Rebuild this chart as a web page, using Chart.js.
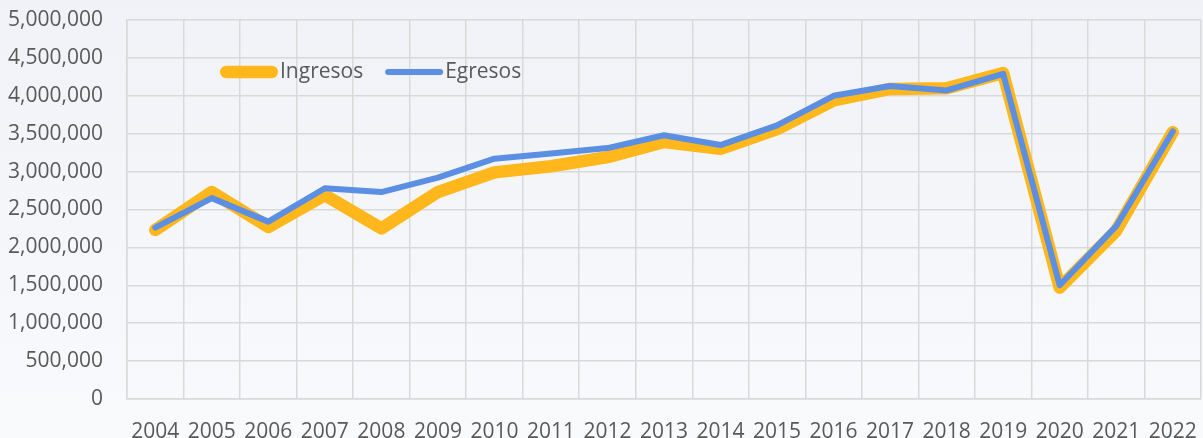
<!DOCTYPE html>
<html>
<head>
<meta charset="utf-8">
<script src="https://cdn.jsdelivr.net/npm/chart.js@4"></script>
<style>
  html, body { margin: 0; padding: 0; background: #f5f6fa; }
  #wrap { width: 1203px; height: 438px; }
</style>
</head>
<body>
<div id="wrap"><canvas id="c" width="1203" height="438"></canvas></div>
<script>
const years = ['2004','2005','2006','2007','2008','2009','2010','2011','2012','2013','2014','2015','2016','2017','2018','2019','2020','2021','2022'];
const ingresos = [2230000, 2730000, 2270000, 2690000, 2250000, 2730000, 2990000, 3070000, 3190000, 3390000, 3300000, 3560000, 3940000, 4090000, 4100000, 4300000, 1470000, 2220000, 3520000];
const egresos  = [2260000, 2650000, 2340000, 2780000, 2730000, 2920000, 3170000, 3240000, 3310000, 3480000, 3350000, 3610000, 4000000, 4130000, 4070000, 4290000, 1500000, 2280000, 3530000];
const seriesNames = ['Ingresos', 'Egresos'];

const FONT = '"Open Sans", "DejaVu Sans", sans-serif';
const TEXT = '#595959';
const GRID = '#d9d9d9';

const bgPlugin = {
  id: 'bg',
  beforeDraw(chart) {
    const ctx = chart.ctx;
    const g = ctx.createLinearGradient(0, 0, 0, chart.height);
    g.addColorStop(0, '#f1f2f7');
    g.addColorStop(1, '#f9fafc');
    ctx.save();
    ctx.fillStyle = g;
    ctx.fillRect(0, 0, chart.width, chart.height);
    ctx.restore();
  }
};

const legendPlugin = {
  id: 'innerLegend',
  afterDatasetsDraw(chart) {
    const ctx = chart.ctx;
    ctx.save();
    ctx.font = '21px ' + FONT;
    ctx.textBaseline = 'middle';
    ctx.textAlign = 'left';
    let x = 220;
    const y = 72;
    const sample = 58;
    chart.data.datasets.forEach((ds) => {
      const w = ds.borderWidth;
      ctx.strokeStyle = ds.borderColor;
      ctx.lineWidth = w;
      ctx.lineCap = 'round';
      ctx.beginPath();
      ctx.moveTo(x + w / 2, y);
      ctx.lineTo(x + sample - w / 2, y);
      ctx.stroke();
      x += sample + 2;
      ctx.fillStyle = TEXT;
      ctx.fillText(ds.label, x, y);
      x += ctx.measureText(ds.label).width + 22;
    });
    ctx.restore();
  }
};

new Chart(document.getElementById('c'), {
  type: 'line',
  data: {
    labels: years,
    datasets: [
      {
        label: seriesNames[0],
        data: ingresos,
        borderColor: '#ffb71c',
        backgroundColor: '#ffb71c',
        borderWidth: 12.5,
        order: 1
      },
      {
        label: seriesNames[1],
        data: egresos,
        borderColor: '#5b8fe3',
        backgroundColor: '#5b8fe3',
        borderWidth: 6,
        order: 0
      }
    ]
  },
  options: {
    responsive: false,
    animation: false,
    devicePixelRatio: 1,
    layout: { autoPadding: false, padding: { top: 20, right: 2, left: 0, bottom: 0 } },
    elements: {
      line: { tension: 0, borderCapStyle: 'round', borderJoinStyle: 'round', fill: false },
      point: { radius: 0, hoverRadius: 0 }
    },
    plugins: {
      legend: { display: false },
      tooltip: { enabled: false },
      title: { display: false }
    },
    scales: {
      x: {
        offset: true,
        grid: { offset: true, color: GRID, lineWidth: 1.5, drawTicks: false },
        border: { color: GRID, width: 1.5 },
        ticks: { color: TEXT, font: { family: FONT, size: 21 }, padding: 20, maxRotation: 0, autoSkip: false },
        afterFit(scale) {
          scale.height = 39;
          scale.paddingLeft = 0;
          scale.paddingRight = 0;
        }
      },
      y: {
        min: 0,
        max: 5000000,
        grid: { color: GRID, lineWidth: 1.5, drawTicks: false },
        border: { color: GRID, width: 1.5 },
        ticks: {
          stepSize: 500000,
          color: TEXT,
          font: { family: FONT, size: 21 },
          padding: 24,
          callback: (v) => v.toLocaleString('en-US')
        },
        afterFit(scale) {
          scale.width = 127;
          scale.paddingTop = 0;
          scale.paddingBottom = 0;
        }
      }
    }
  },
  plugins: [bgPlugin, legendPlugin]
});
</script>
</body>
</html>
